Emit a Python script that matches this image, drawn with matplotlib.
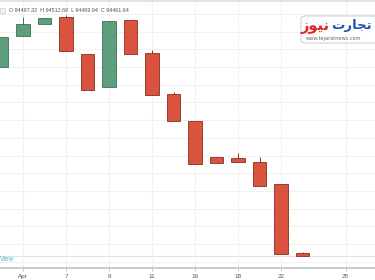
import matplotlib
matplotlib.use("Agg")
import matplotlib.pyplot as plt
from matplotlib.patches import Rectangle, FancyBboxPatch
import numpy as np

# ---- data ----
opens  = [96600, 96950, 97086, 97165, 96747, 96374, 97131, 96758, 96295, 95990, 95583, 95572, 95527, 95278, 94497.32]
closes = [96939, 97086, 97154, 96781, 96340, 97120, 96747, 96284, 95990, 95504, 95515, 95527, 95255, 94487, 94461.64]
highs  = [96939, 97165, 97154, 97188, 96747, 97120, 97131, 96792, 96318, 95990, 95583, 95628, 95583, 95278, 94512.68]
lows   = [96600, 96950, 97086, 96781, 96340, 96374, 96747, 96284, 95990, 95504, 95515, 95527, 95255, 94487, 94469.94]
tick_pos    = [1, 3, 5, 7, 9, 11, 13, 16]
tick_labels = ["Apr", "7", "9", "11", "16", "18", "22", "25"]

W, H = 375, 280
fig = plt.figure(figsize=(W / 100, H / 100), dpi=100)
fig.patch.set_facecolor("white")
ax = fig.add_axes([0, 12 / H, 1, 268 / H])
ax.set_facecolor("white")

up_face, up_edge = "#5d9e7d", "#3d6e55"
dn_face, dn_edge = "#d9533f", "#8a2e22"

x = np.arange(len(opens))
o = np.array(opens); c = np.array(closes)
hi = np.array(highs); lo = np.array(lows)
is_up = c >= o
face = [up_face if u else dn_face for u in is_up]
edge = [up_edge if u else dn_edge for u in is_up]
wick_lo = np.minimum(lo, np.minimum(o, c))
ax.vlines(x, wick_lo, hi, colors=edge, linewidth=0.7, zorder=2)
ax.bar(x, np.abs(c - o), bottom=np.minimum(o, c), width=0.63,
       color=face, edgecolor=edge, linewidth=0.6, zorder=3)

ax.set_xlim(-0.07, 17.37)
ax.set_ylim(94329, 97357)
ax.set_yticks(np.arange(94400, 97400, 200))
ax.set_xticks(tick_pos)
ax.set_xticklabels(tick_labels, family="Liberation Sans")
ax.grid(True, color="#f1f1f1", linewidth=0.8, zorder=0)
ax.axhline(closes[-1], color="#e2e2e2", linewidth=0.8, zorder=1)

for s in ["top", "left", "right"]:
    ax.spines[s].set_visible(False)
ax.spines["bottom"].set_color("#c9c9c9")
ax.spines["bottom"].set_linewidth(1.4)
ax.tick_params(axis="y", left=False, labelleft=False)
ax.tick_params(axis="x", direction="out", length=2.5, width=0.6, color="#bbbbbb",
               labelsize=4.6, labelcolor="#555555", pad=1.5)

# top border
fig.add_artist(plt.Line2D([0, 1], [1 - 1 / H, 1 - 1 / H], color="#dddddd", linewidth=1.2))

# OHLC legend
fig.add_artist(Rectangle((0, 1 - 13 / H), 5 / W, 5 / H, facecolor="#f4f4f4",
                         edgecolor="#cccccc", linewidth=0.5, transform=fig.transFigure))
fig.text(9 / W, 1 - 10.5 / H,
         f"O {opens[-1]:.2f}  H {highs[-1]:.2f}  L {lows[-1]:.2f}  C {closes[-1]:.2f}",
         fontsize=3.9, family="Liberation Sans", color="#555555", va="center", ha="left")

# "View" link remnant
fig.text(0, 1 - 259.5 / H, "View", fontsize=4.8, family="Liberation Sans",
         color="#5aaee0", va="center", ha="left")

# watermark logo
fig.add_artist(FancyBboxPatch((301 / W, 1 - 43 / H), 80 / W, 27 / H,
                              boxstyle="round,pad=0,rounding_size=0.012",
                              facecolor="white", edgecolor="#cccccc", linewidth=0.7,
                              transform=fig.transFigure, zorder=5))
fig.text(330 / W, 1 - 26 / H, "\uFEAF\uFEEE\uFBFF\uFEE7", fontsize=10.5, fontweight="bold",
         color="#e0262b", va="center", ha="right", zorder=6)
fig.text(372 / W, 1 - 26 / H, "\uFE95\uFEAD\uFE8E\uFEA0\uFE97", fontsize=9.5, fontweight="bold",
         color="#1f56b3", va="center", ha="right", zorder=6)
fig.text(306 / W, 1 - 38.5 / H, "www.tejaratnews.com", fontsize=3.6, color="#666666",
         va="center", ha="left", zorder=6)

fig.savefig("out.png", dpi=100)
